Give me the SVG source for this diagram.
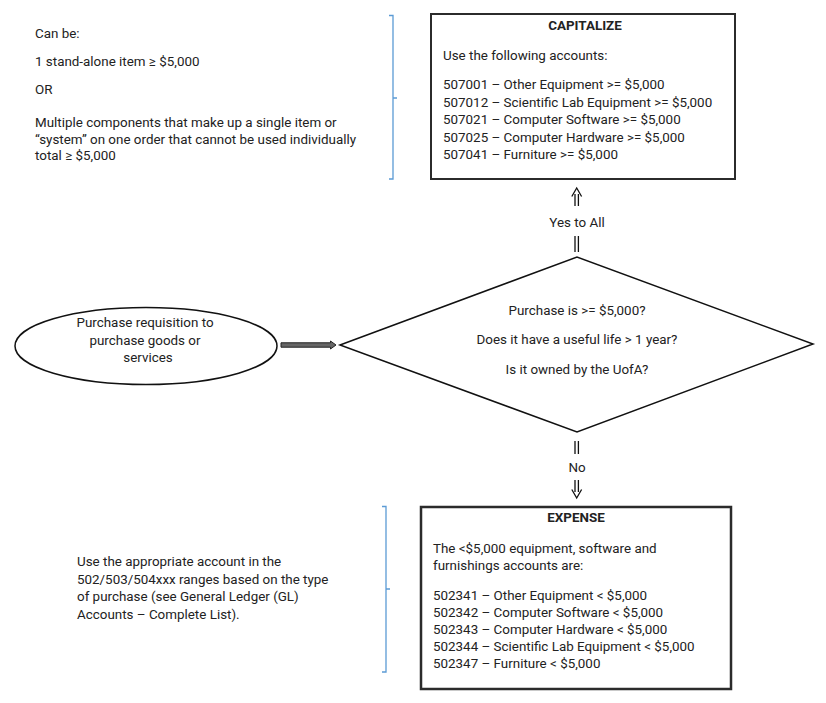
<svg xmlns="http://www.w3.org/2000/svg" width="826" height="703" viewBox="0 0 826 703">
<style>
text{font-family:Roboto,"Liberation Sans",sans-serif;font-size:13.4px;fill:#222}
.b{font-weight:bold}
.c{text-anchor:middle}
.box{fill:#fff;stroke:#2b2b2b}
.br{fill:none;stroke:#5b9bd5;stroke-width:1.3}
.ar{fill:none;stroke:#111;stroke-width:1.3}
</style>
<rect width="826" height="703" fill="#fff"/>
<g id="note-top">
<text x="35" y="38">Can be:</text>
<text x="35" y="66">1 stand-alone item ≥ $5,000</text>
<text x="35" y="94">OR</text>
<text x="35" y="127">Multiple components that make up a single item or</text>
<text x="35" y="143.5">“system” on one order that cannot be used individually</text>
<text x="35" y="160">total ≥ $5,000</text>
<path class="br" d="M389,15.5 H393 V179 H389 M393,98 H397"/>
</g>
<g id="capitalize">
<rect class="box" x="431" y="14" width="304" height="165" stroke-width="2"/>
<text class="b c" x="585" y="29.5">CAPITALIZE</text>
<text x="443" y="60">Use the following accounts:</text>
<text x="443" y="89">507001 – Other Equipment &gt;= $5,000</text>
<text x="443" y="106.5">507012 – Scientific Lab Equipment &gt;= $5,000</text>
<text x="443" y="124">507021 – Computer Software &gt;= $5,000</text>
<text x="443" y="141.5">507025 – Computer Hardware &gt;= $5,000</text>
<text x="443" y="159">507041 – Furniture &gt;= $5,000</text>
</g>
<g id="start">
<ellipse cx="146" cy="346" rx="131" ry="38.5" fill="#fff" stroke="#111" stroke-width="1.5"/>
<text class="c" x="145" y="327">Purchase requisition to</text>
<text class="c" x="145" y="345">purchase goods or</text>
<text class="c" x="148" y="362">services</text>
</g>
<g id="decision">
<polygon points="340,345 577,257 813,344 577,432" fill="#fff" stroke="#111" stroke-width="1.5"/>
<text class="c" x="577" y="315">Purchase is &gt;= $5,000?</text>
<text class="c" x="577" y="344">Does it have a useful life &gt; 1 year?</text>
<text class="c" x="577" y="374">Is it owned by the UofA?</text>
</g>
<g id="expense">
<rect class="box" x="421" y="507" width="310" height="182" stroke-width="2.5"/>
<text class="b c" x="576" y="522">EXPENSE</text>
<text x="433" y="553">The &lt;$5,000 equipment, software and</text>
<text x="433" y="570">furnishings accounts are:</text>
<text x="433" y="600">502341 – Other Equipment &lt; $5,000</text>
<text x="433" y="617">502342 – Computer Software &lt; $5,000</text>
<text x="433" y="634">502343 – Computer Hardware &lt; $5,000</text>
<text x="433" y="651">502344 – Scientific Lab Equipment &lt; $5,000</text>
<text x="433" y="668">502347 – Furniture &lt; $5,000</text>
</g>
<g id="note-bottom">
<text x="77" y="566">Use the appropriate account in the</text>
<text x="77" y="583.5">502/503/504xxx ranges based on the type</text>
<text x="77" y="601">of purchase (see General Ledger (GL)</text>
<text x="77" y="618.5">Accounts – Complete List).</text>
<path class="br" d="M382,506.5 H386 V672 H382 M386,589 H390"/>
</g>
<g id="connectors">
<path d="M281,342.8 H330.5 V341 L336,345 L330.5,349 V347.2 H281 Z" fill="#666" stroke="#222" stroke-width="1"/>
<path class="ar" d="M575,194 V206 M578.4,194 V206 M571.8,196.5 L576.7,188 L581.6,196.5"/>
<text class="c" x="577" y="227">Yes to All</text>
<path class="ar" d="M575,236 V252 M578.4,236 V252"/>
<path class="ar" d="M575,441 V454 M578.4,441 V454"/>
<text class="c" x="577" y="472">No</text>
<path class="ar" d="M575,480 V492 M578.4,480 V492 M571.8,489.5 L576.7,498 L581.6,489.5"/>
</g>
</svg>
